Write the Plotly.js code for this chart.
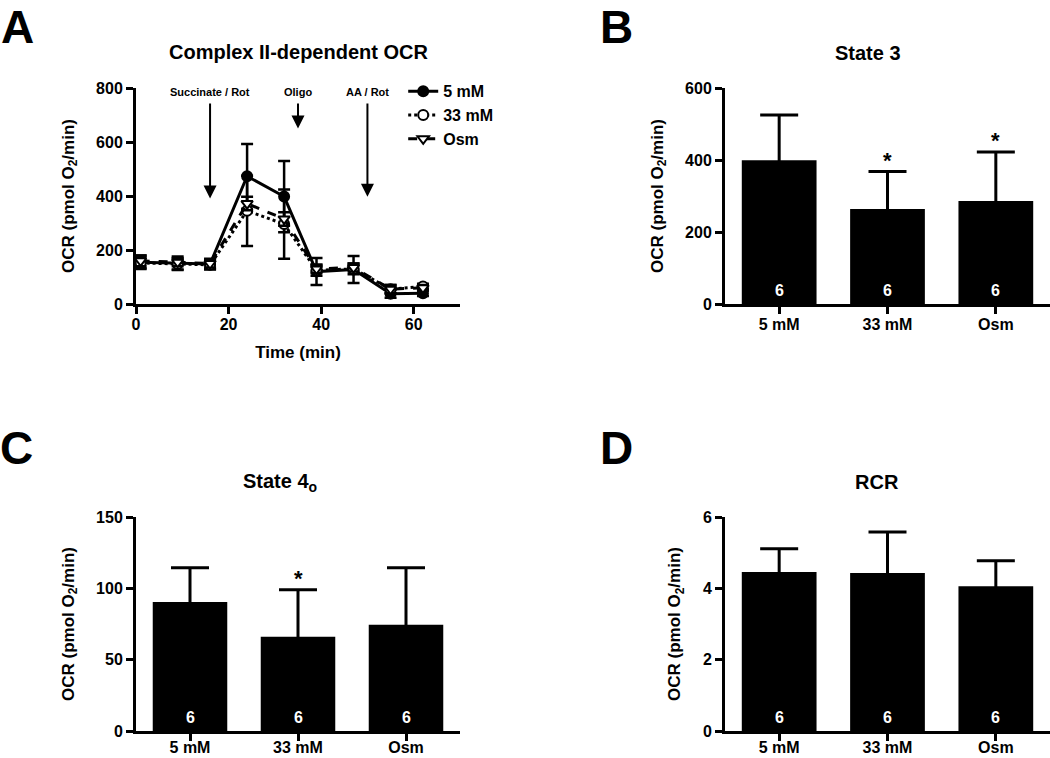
<!DOCTYPE html>
<html>
<head>
<meta charset="utf-8">
<script src="https://cdn.plot.ly/plotly-3.0.1.min.js"></script>
<style>html,body{margin:0;padding:0;background:#fff;}#chart{width:1050px;height:758px;}</style>
</head>
<body>
<div id="chart"></div>
<script>
// ---------- Panel A data: Complex II-dependent OCR time course ----------
const timeMin = [1, 9, 16, 24, 32, 39, 47, 55, 62];
const ocr5mM = [155, 151, 148, 473, 398, 120, 128, 38, 40];
const err5mM = [25, 25, 20, 120, 132, 50, 50, 15, 10];
const ocr33mM = [152, 148, 145, 345, 296, 125, 130, 55, 65];
const err33mM = [20, 20, 15, 130, 128, 20, 20, 15, 10];
const ocrOsm = [160, 155, 150, 372, 315, 130, 135, 55, 60];
const errOsm = [20, 15, 15, 25, 25, 15, 15, 15, 10];
const eventTimes = [16, 35, 50];
const eventLabels = ['Succinate / Rot', 'Oligo', 'AA / Rot'];

// ---------- Panels B-D data ----------
const groups = ['5 mM', '33 mM', 'Osm'];
const state3 = [399, 264, 286];
const state3Err = [126, 104, 136];
const state3Sig = ['', '*', '*'];
const state4o = [90.5, 66, 74.5];
const state4oErr = [24, 33, 40];
const state4oSig = ['', '*', ''];
const rcr = [4.46, 4.43, 4.06];
const rcrErr = [0.65, 1.15, 0.71];
const rcrSig = ['', '', ''];
const nPerGroup = ['6', '6', '6'];

const FONT = 'Liberation Sans, Arial, Helvetica, sans-serif';
const bold = (size, color) => ({family: FONT, size: size, weight: 'bold', color: color || '#000'});

function lineTrace(name, y, err, symbol, fill, dash) {
  return {
    type: 'scatter', mode: 'lines+markers', name: name,
    x: timeMin, y: y, xaxis: 'x', yaxis: 'y',
    line: {color: '#000', width: 3, dash: dash},
    marker: {symbol: symbol, size: 10, color: fill, line: {color: '#000', width: 2}},
    error_y: {type: 'data', array: err, visible: true, color: '#000', thickness: 2.5, width: 6}
  };
}

function barTrace(vals, errs, xa, ya) {
  return {
    type: 'bar', x: groups, y: vals, xaxis: xa, yaxis: ya, showlegend: false,
    marker: {color: '#000', line: {width: 0}},
    error_y: {type: 'data', symmetric: true, array: errs,
              visible: true, color: '#000', thickness: 3, width: 19}
  };
}

const data = [
  barTrace(state3, state3Err, 'x2', 'y2'),
  barTrace(state4o, state4oErr, 'x3', 'y3'),
  barTrace(rcr, rcrErr, 'x4', 'y4'),
  lineTrace('5 mM', ocr5mM, err5mM, 'circle', '#000', 'solid'),
  lineTrace('33 mM', ocr33mM, err33mM, 'circle', '#fff', 'dot'),
  lineTrace('Osm', ocrOsm, errOsm, 'triangle-down', '#fff', 'dash')
];

function axisBase(extra) {
  return Object.assign({
    showline: true, linewidth: 3, linecolor: '#000', mirror: false,
    ticks: 'outside', ticklen: 7, tickwidth: 3, tickcolor: '#000',
    showgrid: false, zeroline: false, tickfont: bold(16), fixedrange: true
  }, extra);
}
const yTitle = {text: 'OCR (pmol O<sub>2</sub>/min)', font: bold(17), standoff: 18};

const xdomL = [136/1050, 460/1050], xdomR = [725/1050, 1];
const ydomT = [1 - 304/758, 1 - 88/758], ydomB = [1 - 731/758, 1 - 517/758];

const layout = {
  width: 1050, height: 758,
  margin: {l: 0, r: 0, t: 0, b: 0},
  paper_bgcolor: '#fff', plot_bgcolor: '#fff',
  font: bold(16),
  bargap: 0.31,
  showlegend: true,
  legend: {x: 0.384, y: 0.902, xanchor: 'left', yanchor: 'top', font: bold(16),
           bgcolor: 'rgba(0,0,0,0)', tracegroupgap: 0, itemwidth: 30},
  xaxis: axisBase({domain: xdomL, anchor: 'y', range: [0, 70], tickvals: [0, 20, 40, 60], ticklabelstandoff: -3,
                   title: {text: 'Time (min)', font: bold(17), standoff: 14}}),
  yaxis: axisBase({domain: ydomT, anchor: 'x', range: [0, 800], tickvals: [0, 200, 400, 600, 800], title: yTitle}),
  xaxis2: axisBase({domain: xdomR, anchor: 'y2', type: 'category', range: [-0.5, 2.5], ticklabelstandoff: -3}),
  yaxis2: axisBase({domain: ydomT, anchor: 'x2', range: [0, 600], tickvals: [0, 200, 400, 600], title: yTitle}),
  xaxis3: axisBase({domain: xdomL, anchor: 'y3', type: 'category', range: [-0.5, 2.5], ticklabelstandoff: -7}),
  yaxis3: axisBase({domain: ydomB, anchor: 'x3', range: [0, 150], tickvals: [0, 50, 100, 150], title: yTitle}),
  xaxis4: axisBase({domain: xdomR, anchor: 'y4', type: 'category', range: [-0.5, 2.5], ticklabelstandoff: -7}),
  yaxis4: axisBase({domain: ydomB, anchor: 'x4', range: [0, 6], tickvals: [0, 2, 4, 6], title: yTitle}),
  annotations: []
};

const ann = layout.annotations;
// panel letters
[['A', 0.0167, 1, 'top'], ['B', 0.5867, 1, 'top'], ['C', 0.0157, 0.4096, 'middle'], ['D', 0.5876, 0.4096, 'middle']].forEach(p => {
  ann.push({text: p[0], x: p[1], y: p[2], xref: 'paper', yref: 'paper', xanchor: 'center', yanchor: p[3],
            borderpad: 0, showarrow: false, font: bold(46)});
});
// panel titles
[['Complex II-dependent OCR', 298/1050, 1 - 52/758], ['State 3', 868/1050, 1 - 53/758],
 ['State 4<sub>o</sub>', 280/1050, 1 - 482/758], ['RCR', 877/1050, 1 - 482/758]].forEach(p => {
  ann.push({text: p[0], x: p[1], y: p[2], xref: 'paper', yref: 'paper', xanchor: 'center', yanchor: 'middle',
            showarrow: false, font: bold(20)});
});
// event arrows and labels (panel A)
const arrowHead = [391, 650, 397];
eventTimes.forEach((t, i) => {
  ann.push({x: t, y: arrowHead[i], ax: t, ay: 748, xref: 'x', yref: 'y', axref: 'x', ayref: 'y',
            text: '', showarrow: true, arrowhead: 2, arrowsize: 1.3, arrowwidth: 2, arrowcolor: '#000'});
  ann.push({x: t, y: 784, xref: 'x', yref: 'y', text: eventLabels[i], showarrow: false,
            xanchor: 'center', yanchor: 'middle', font: bold(11)});
});
// n labels and significance stars
[[state3, state3Err, state3Sig, 'x2', 'y2'], [state4o, state4oErr, state4oSig, 'x3', 'y3'],
 [rcr, rcrErr, rcrSig, 'x4', 'y4']].forEach(s => {
  groups.forEach((g, i) => {
    ann.push({x: g, y: 0, xref: s[3], yref: s[4], text: nPerGroup[i], showarrow: false,
              xanchor: 'center', yanchor: 'bottom', yshift: 3, font: bold(16, '#fff')});
    if (s[2][i]) {
      ann.push({x: g, y: s[0][i] + s[1][i], xref: s[3], yref: s[4], text: s[2][i], showarrow: false,
                xanchor: 'center', yanchor: 'bottom', yshift: -3, font: bold(22)});
    }
  });
});

Plotly.newPlot('chart', data, layout, {displayModeBar: false, staticPlot: true});
</script>
</body>
</html>
